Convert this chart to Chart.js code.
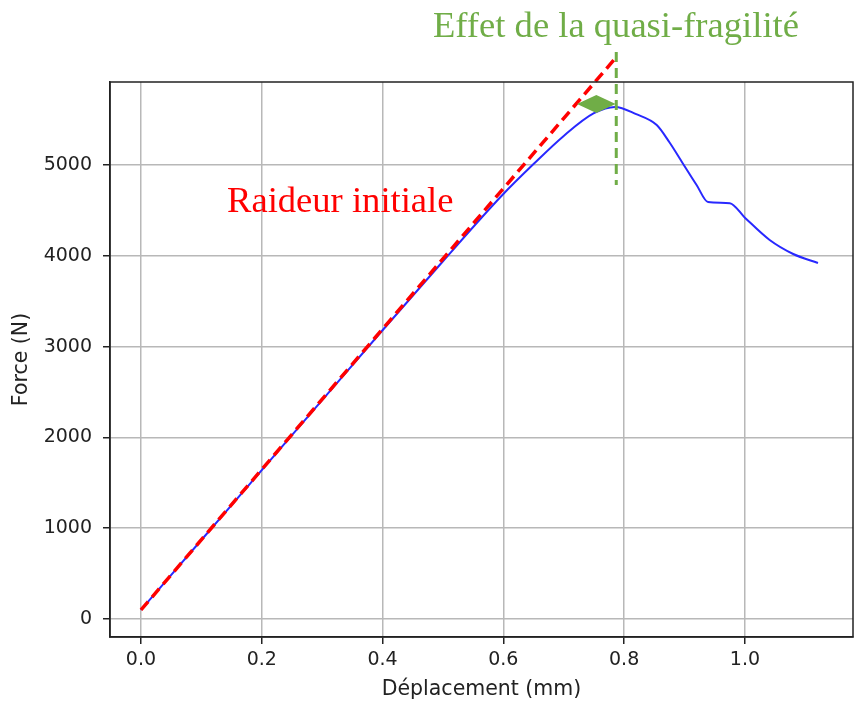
<!DOCTYPE html>
<html>
<head>
<meta charset="utf-8">
<script src="https://cdn.jsdelivr.net/npm/chart.js@4"></script>
<style>
  body { margin: 0; background: #fff; }
  #wrap { width: 859px; height: 708px; }
</style>
</head>
<body>
<div id="wrap"><canvas id="forceChart" width="859" height="708"></canvas></div>
<script>
// courbe force / déplacement
var deplacement = [0, 0.1, 0.2, 0.3, 0.4, 0.5, 0.6, 0.65, 0.7, 0.75, 0.785, 0.82, 0.854, 0.875, 0.897, 0.92, 0.939, 0.975, 1.0, 1.041, 1.08, 1.121];
var force = [100, 870, 1640, 2410, 3180, 3940, 4680, 5010, 5320, 5570, 5640, 5560, 5440, 5250, 5020, 4780, 4592, 4580, 4420, 4174, 4020, 3921];

// raideur initiale (droite)
var raideurX = [0, 0.783];
var raideurY = [100, 6156];

// trait vertical vert + flèche
var fragX = [0.787, 0.787];
var fragY = [6244, 4780];
var flecheX = [0.722, 0.786];
var flecheY = 5672;

var xTicks = [0, 0.2, 0.4, 0.6, 0.8, 1.0];
var yTicks = [0, 1000, 2000, 3000, 4000, 5000];

var green = '#70ad47';

function pts(xs, ys) {
  return xs.map(function (x, i) { return { x: x, y: ys[i] }; });
}

var framePlugin = {
  id: 'frame',
  afterDatasetsDraw: function (chart) {
    var c = chart.ctx;
    var sx = chart.scales.x, sy = chart.scales.y;
    // flèche double
    var x1 = sx.getPixelForValue(flecheX[0]);
    var x2 = sx.getPixelForValue(flecheX[1]);
    var y = sy.getPixelForValue(flecheY);
    var xm = (x1 + x2) / 2;
    c.save();
    c.fillStyle = green;
    c.beginPath();
    c.moveTo(x1, y); c.lineTo(xm, y - 9); c.lineTo(xm, y + 9); c.closePath();
    c.moveTo(x2, y); c.lineTo(xm, y - 9); c.lineTo(xm, y + 9); c.closePath();
    c.fill();
    c.restore();
  },
  afterDraw: function (chart) {
    var c = chart.ctx, a = chart.chartArea;
    c.save();
    c.strokeStyle = '#222';
    c.lineWidth = 1.5;
    c.strokeRect(a.left, a.top, a.right - a.left, a.bottom - a.top);
    c.font = '36.6px "Liberation Serif"';
    c.fillStyle = green;
    c.textBaseline = 'alphabetic';
    c.fillText('Effet de la quasi-fragilité', 433, 37);
    c.fillStyle = '#ff0000';
    c.fillText('Raideur initiale', 227, 212);
    c.restore();
  }
};

var ctx = document.getElementById('forceChart').getContext('2d');
var forceChart = new Chart(ctx, {
  type: 'scatter',
  data: {
    datasets: [
      {
        label: 'Force',
        data: pts(deplacement, force),
        showLine: true,
        borderColor: '#2828ff',
        borderWidth: 2,
        pointRadius: 0,
        cubicInterpolationMode: 'monotone',
        order: 3
      },
      {
        label: 'Raideur initiale',
        data: pts(raideurX, raideurY),
        showLine: true,
        borderColor: '#ff0000',
        borderWidth: 3.5,
        borderDash: [11, 6],
        pointRadius: 0,
        clip: false,
        order: 1
      },
      {
        label: 'Quasi-fragilité',
        data: pts(fragX, fragY),
        showLine: true,
        borderColor: green,
        borderWidth: 3,
        borderDash: [10, 6],
        pointRadius: 0,
        clip: false,
        order: 2
      }
    ]
  },
  plugins: [framePlugin],
  options: {
    responsive: false,
    animation: false,
    layout: { padding: { top: 82, right: 6, left: 0, bottom: 0 } },
    plugins: { legend: { display: false }, tooltip: { enabled: false } },
    scales: {
      x: {
        type: 'linear',
        min: -0.0513,
        max: 1.179,
        afterBuildTicks: function (s) { s.ticks = xTicks.map(function (v) { return { value: v }; }); },
        afterFit: function (s) { s.height = 71; },
        grid: { color: '#b8b8b8', lineWidth: 1.5, tickColor: '#222', tickLength: 7 },
        border: { display: true, color: '#222', width: 1.5 },
        ticks: {
          padding: 5,
          color: '#222',
          font: { family: 'DejaVu Sans', size: 19 },
          callback: function (v) { return v.toFixed(1); }
        },
        title: {
          display: true,
          text: 'Déplacement (mm)',
          color: '#222',
          font: { family: 'DejaVu Sans', size: 20.5 },
          padding: { top: 0, bottom: 6 }
        }
      },
      y: {
        type: 'linear',
        min: -198,
        max: 5914,
        afterBuildTicks: function (s) { s.ticks = yTicks.map(function (v) { return { value: v }; }); },
        afterFit: function (s) { s.width = 110; },
        grid: { color: '#b8b8b8', lineWidth: 1.5, tickColor: '#222', tickLength: 7 },
        border: { display: true, color: '#222', width: 1.5 },
        ticks: {
          padding: 11,
          color: '#222',
          font: { family: 'DejaVu Sans', size: 19 },
          callback: function (v) { return String(v); }
        },
        title: {
          display: true,
          text: 'Force (N)',
          color: '#222',
          font: { family: 'DejaVu Sans', size: 20.5 },
          padding: { top: 9, bottom: 0 }
        }
      }
    }
  }
});
</script>
</body>
</html>
